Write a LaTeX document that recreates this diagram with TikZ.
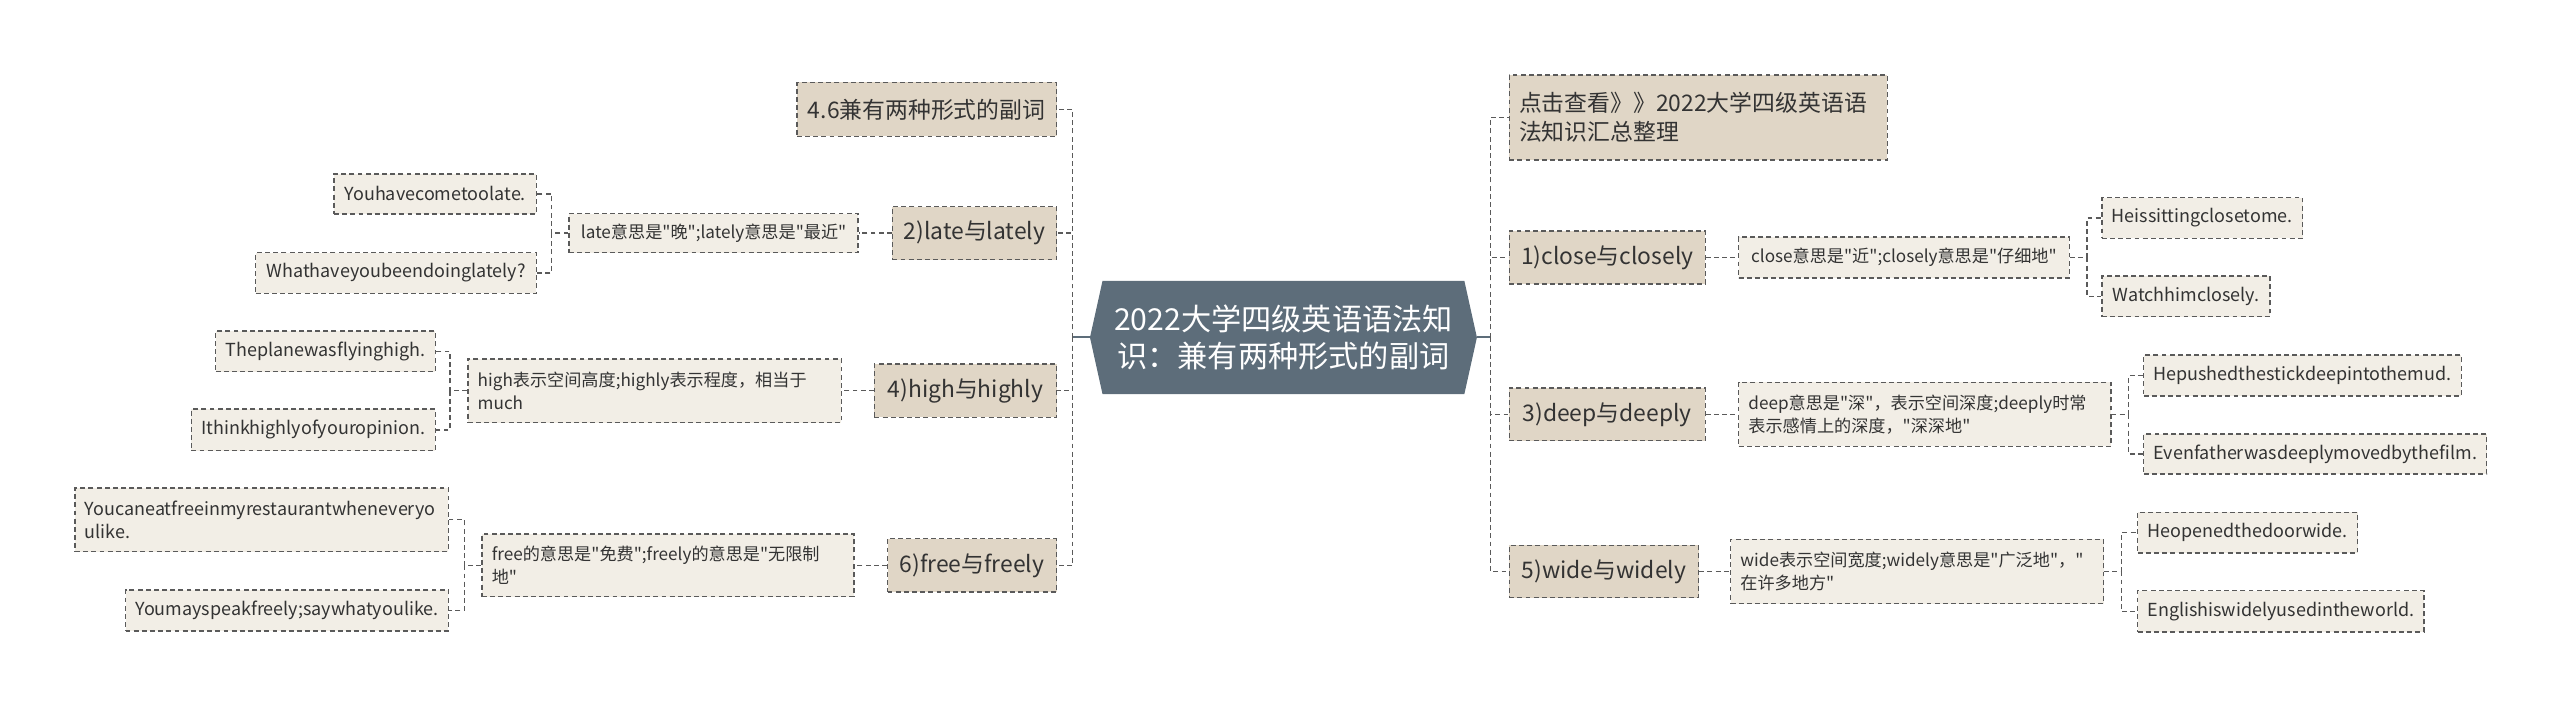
\documentclass[tikz,border=0pt]{standalone}
\usepackage{fontspec}
\setmainfont{Noto Sans CJK SC}[Ligatures=TeXOff]
\usetikzlibrary{shapes.symbols}
\definecolor{slate}{HTML}{5D6D7A}
\definecolor{lvone}{HTML}{E0D6C6}
\definecolor{lvtwo}{HTML}{F2EEE6}
\definecolor{edge}{HTML}{5A5A5A}
\definecolor{ink}{HTML}{333333}
\tikzset{
  bx/.style={draw=edge, line width=0.8pt, dash pattern=on 3pt off 2pt, inner xsep=6pt, inner ysep=0pt, align=left, text=ink},
  lone/.style={bx, fill=lvone, font=\fontsize{14}{17.8}\selectfont},
  ltwo/.style={bx, fill=lvtwo, font=\fontsize{10.5}{14.2}\selectfont},
  leaf/.style={bx, fill=lvtwo, font=\fontsize{11}{14.2}\selectfont},
  conn/.style={draw=edge, line width=0.8pt, dash pattern=on 3pt off 2pt},
  main/.style={draw=slate, line width=1.2pt},
}
\begin{document}
\begin{tikzpicture}[x=1pt,y=-1pt]
\useasboundingbox (0,0) rectangle (1568,434);
% central
\node[signal, signal to=west and east, signal pointer angle=155, fill=slate, minimum width=237pt, minimum height=69.3pt, inner sep=0pt, text=white, align=center, font=\fontsize{18.5}{22.6}\selectfont] (c) at (786.1,206.7) {2022大学四级英语语法知\\识：兼有两种形式的副词};
\coordinate (tl) at (657,206.7);
\coordinate (tr) at (913,206.7);
% left level 1
\node[lone, anchor=east, minimum width=159pt, minimum height=33pt] (l0) at (647.5,67) {4.6兼有两种形式的副词};
\node[lone, anchor=east, minimum width=100.5pt, minimum height=32.4pt] (l1) at (647.5,142.8) {2)late与lately};
\node[lone, anchor=east, minimum width=111.5pt, minimum height=32.6pt] (l2) at (647.5,239.3) {4)high与highly};
\node[lone, anchor=east, minimum width=103.5pt, minimum height=32.6pt] (l3) at (647.5,346.3) {6)free与freely};
% left level 2
\node[ltwo, anchor=east, minimum width=177pt, minimum height=24pt] (m1) at (526,142.8) {late意思是"晚";lately意思是"最近"};
\node[ltwo, anchor=east, text width=216.7pt, minimum height=39pt] (m2) at (515.7,239.3) {high表示空间高度;highly表示程度，相当于\\much};
\node[ltwo, anchor=east, text width=215.8pt, minimum height=38.4pt] (m3) at (523.4,346.3) {free的意思是"免费";freely的意思是"无限制\\地"};
% left leaves
\node[leaf, anchor=east, minimum width=124pt, minimum height=24.4pt] (a1) at (329,118.8) {Youhavecometoolate.};
\node[leaf, anchor=east, minimum width=172pt, minimum height=24.8pt] (a2) at (329,167.2) {Whathaveyoubeendoinglately?};
\node[leaf, anchor=east, minimum width=132.5pt, minimum height=25pt] (b1) at (267,215.2) {Theplanewasflyinghigh.};
\node[leaf, anchor=east, minimum width=148.4pt, minimum height=25.4pt] (b2) at (267,263.3) {Ithinkhighlyofyouropinion.};
\node[leaf, anchor=east, text width=216.6pt, minimum height=39pt] (d1) at (275,318.4) {Youcaneatfreeinmyrestaurantwheneveryo\\ulike.};
\node[leaf, anchor=east, minimum width=196.4pt, minimum height=25pt] (d2) at (275,373.9) {Youmayspeakfreely;saywhatyoulike.};
% right level 1
\node[lone, anchor=west, text width=219.5pt, minimum height=52pt] (r0) at (924,72) {点击查看》》2022大学四级英语语\\法知识汇总整理};
\node[lone, anchor=west, minimum width=120pt, minimum height=32.5pt] (r1) at (924,157.7) {1)close与closely};
\node[lone, anchor=west, minimum width=120pt, minimum height=32.4pt] (r2) at (924,253.8) {3)deep与deeply};
\node[lone, anchor=west, minimum width=116pt, minimum height=32pt] (r3) at (924,350) {5)wide与widely};
% right level 2
\node[ltwo, anchor=west, minimum width=202.5pt, minimum height=25pt] (n1) at (1064.5,157.7) {close意思是"近";closely意思是"仔细地"};
\node[ltwo, anchor=west, text width=216pt, minimum height=39.2pt] (n2) at (1064.5,253.8) {deep意思是"深"，表示空间深度;deeply时常\\表示感情上的深度，"深深地"};
\node[ltwo, anchor=west, text width=216.4pt, minimum height=39.3pt] (n3) at (1059.6,350) {wide表示空间宽度;widely意思是"广泛地"，"\\在许多地方"};
% right leaves
\node[leaf, anchor=west, minimum width=123pt, minimum height=25pt] (e1) at (1287,133.5) {Heissittingclosetome.};
\node[leaf, anchor=west, minimum width=103pt, minimum height=25pt] (e2) at (1287,181.5) {Watchhimclosely.};
\node[leaf, anchor=west, minimum width=194pt, minimum height=25pt] (f1) at (1312.6,230) {Hepushedthestickdeepintothemud.};
\node[leaf, anchor=west, minimum width=209pt, minimum height=24.4pt] (f2) at (1312.6,278.1) {Evenfatherwasdeeplymovedbythefilm.};
\node[leaf, anchor=west, minimum width=134pt, minimum height=25pt] (g1) at (1309,326.2) {Heopenedthedoorwide.};
\node[leaf, anchor=west, minimum width=172pt, minimum height=25.2pt] (g2) at (1309,374.4) {Englishiswidelyusedintheworld.};
% main connectors
\draw[main] (c.west) -- (tl);
\draw[main] (c.east) -- (tr);
\foreach \n in {l0,l1,l2,l3} \draw[conn] (tl) |- (\n.east);
\foreach \n in {r0,r1,r2,r3} \draw[conn] (tr) |- (\n.west);
% level 1 to level 2
\draw[conn] (l1.west) -- (m1.east);
\draw[conn] (l2.west) -- (m2.east);
\draw[conn] (l3.west) -- (m3.east);
\draw[conn] (r1.east) -- (n1.west);
\draw[conn] (r2.east) -- (n2.west);
\draw[conn] (r3.east) -- (n3.west);
% level 2 to leaves
\foreach \p/\a/\b in {m1/a1/a2, m2/b1/b2, m3/d1/d2} {
  \draw[conn] (\p.west) -- ++(-10.5,0) coordinate (k) |- (\a.east);
  \draw[conn] (k) |- (\b.east);
}
\foreach \p/\a/\b in {n1/e1/e2, n2/f1/f2, n3/g1/g2} {
  \draw[conn] (\p.east) -- ++(10.5,0) coordinate (k) |- (\a.west);
  \draw[conn] (k) |- (\b.west);
}
\end{tikzpicture}
\end{document}
